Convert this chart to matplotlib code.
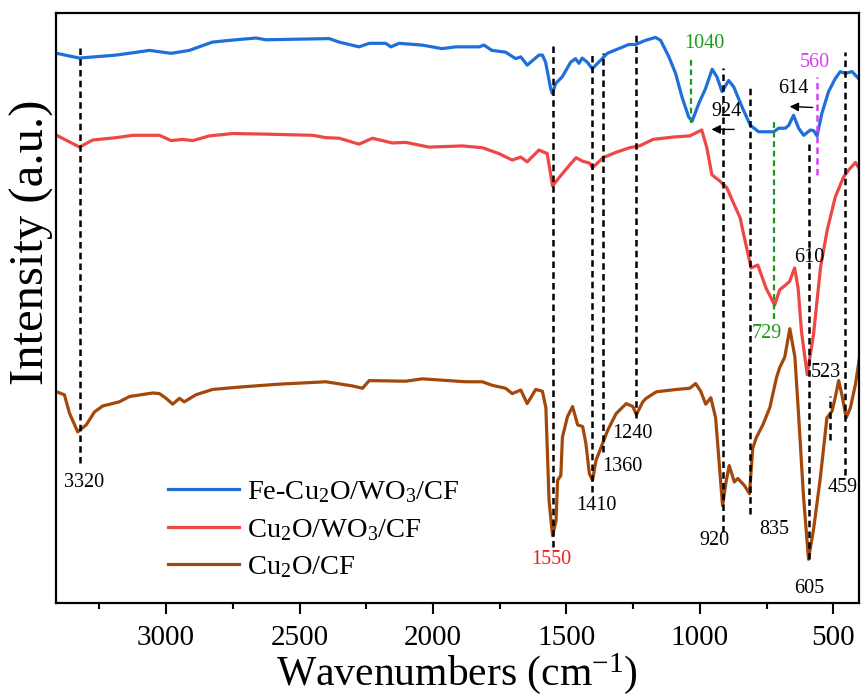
import matplotlib
matplotlib.use('Agg')
import matplotlib.pyplot as plt

plt.rcParams['font.family'] = ['Liberation Serif', 'DejaVu Serif']
plt.rcParams['mathtext.fontset'] = 'custom'
plt.rcParams['mathtext.rm'] = 'Liberation Serif'
plt.rcParams['mathtext.it'] = 'Liberation Serif:italic'

# spectra (wavenumber in cm-1, intensity in a.u.)
fe_wn = [3410, 3325, 3187, 3062, 2981, 2913, 2827, 2763, 2663, 2626, 2389, 2351, 2277, 2239,
         2177, 2158, 2127, 2041, 1966, 1915, 1827, 1809, 1779, 1728, 1690, 1671, 1647, 1603,
         1590, 1578, 1559, 1553, 1540, 1516, 1484, 1466, 1453, 1441, 1422, 1403, 1366, 1347,
         1304, 1266, 1241, 1204, 1166, 1147, 1116, 1091, 1067, 1042, 1029, 1004, 979, 954,
         936, 917, 892, 873, 842, 811, 780, 723, 705, 680, 667, 649, 630, 611, 586, 574, 561,
         543, 518, 493, 474, 455, 430, 405]
fe_int = [93.2, 92.4, 92.9, 93.7, 93.2, 93.7, 95.1, 95.4, 95.8, 95.5, 95.7, 95.1, 94.3, 94.9,
          94.9, 94.3, 94.9, 94.6, 94.0, 94.3, 94.3, 94.6, 93.7, 93.4, 92.3, 92.6, 91.2, 92.9,
          92.9, 91.7, 87.2, 86.4, 88.1, 89.2, 91.7, 92.3, 91.5, 92.4, 91.7, 90.6, 92.3, 93.2,
          94.0, 94.7, 94.7, 95.4, 95.9, 95.4, 92.6, 89.8, 85.8, 82.4, 81.7, 84.7, 87.2, 90.5,
          89.2, 86.7, 88.6, 87.5, 84.1, 81.0, 79.9, 79.9, 80.5, 80.5, 81.0, 82.7, 80.5, 79.3,
          80.2, 80.1, 79.2, 83.0, 86.7, 88.9, 90.1, 89.8, 90.1, 88.9]

cw_wn = [3410, 3324, 3275, 3187, 3125, 3025, 2981, 2938, 2900, 2838, 2751, 2626, 2451, 2401,
         2351, 2277, 2227, 2152, 2102, 2015, 1890, 1815, 1753, 1703, 1671, 1647, 1603, 1572,
         1552, 1528, 1491, 1464, 1439, 1414, 1402, 1363, 1315, 1263, 1226, 1176, 1101, 1038,
         993, 974, 955, 924, 899, 874, 849, 839, 808, 783, 752, 720, 701, 682, 664, 645, 632,
         619, 598, 574, 548, 523, 493, 462, 443, 417, 400]
cw_int = [79.3, 77.3, 78.5, 78.9, 79.3, 79.3, 78.4, 78.6, 78.4, 79.2, 79.6, 79.5, 79.3, 78.9,
          78.8, 77.8, 78.8, 78.0, 78.1, 77.3, 77.5, 77.2, 76.2, 75.1, 75.6, 74.8, 76.8, 76.2,
          70.7, 72.1, 74.1, 75.5, 74.9, 74.6, 73.8, 75.5, 76.4, 77.2, 77.5, 78.6, 79.0, 79.2,
          80.2, 77.2, 72.6, 71.5, 70.4, 67.8, 65.3, 63.1, 56.8, 57.3, 53.4, 50.5, 53.1, 53.8,
          54.5, 56.8, 53.4, 45.9, 38.7, 45.6, 56.9, 63.2, 68.8, 72.2, 73.4, 74.7, 73.4]

cu_wn = [3410, 3381, 3362, 3331, 3299, 3268, 3237, 3175, 3137, 3050, 3025, 3000, 2975, 2950,
         2932, 2888, 2826, 2726, 2576, 2401, 2302, 2264, 2239, 2102, 2040, 1877, 1815, 1778,
         1728, 1703, 1671, 1647, 1615, 1590, 1577, 1565, 1552, 1539, 1533, 1521, 1515, 1496,
         1477, 1458, 1439, 1427, 1414, 1402, 1389, 1370, 1345, 1314, 1276, 1251, 1238, 1214,
         1201, 1163, 1088, 1038, 1016, 997, 978, 959, 941, 928, 915, 902, 890, 871, 858, 833,
         814, 802, 789, 764, 738, 713, 701, 682, 663, 644, 631, 612, 593, 574, 549, 524, 505,
         493, 480, 467, 452, 436, 417, 400]
cu_int = [35.8, 35.3, 32.2, 29.0, 30.2, 32.4, 33.4, 34.1, 35.0, 35.6, 35.5, 34.7, 33.7, 34.7,
          34.1, 35.3, 36.2, 36.6, 37.1, 37.5, 36.8, 36.4, 37.7, 37.6, 38.0, 37.5, 37.5, 36.9,
          36.4, 35.5, 36.1, 33.8, 36.2, 35.9, 33.1, 17.3, 11.4, 13.9, 20.8, 21.6, 28.1, 31.6,
          33.3, 30.2, 29.9, 27.0, 21.9, 20.8, 24.2, 26.4, 29.3, 32.1, 33.8, 33.3, 31.9, 34.1,
          34.7, 35.8, 36.2, 36.4, 37.2, 35.9, 33.7, 34.8, 31.4, 23.9, 16.5, 20.5, 23.3, 20.5,
          21.1, 19.9, 18.5, 26.2, 28.0, 30.2, 33.1, 38.2, 39.9, 41.7, 46.5, 41.7, 32.5, 18.2,
          7.4, 12.5, 21.1, 31.4, 32.5, 34.8, 37.7, 35.1, 31.4, 33.1, 37.1, 42.2]

series_labels = ['Fe-Cu$_2$O/WO$_3$/CF', 'Cu$_2$O/WO$_3$/CF', 'Cu$_2$O/CF']
series_colors = ['#1f6fdb', '#ef4646', '#a3470b']

# marker lines: position, bottom, top
black_pos = [3324, 1552, 1403, 1363, 1238, 914, 811, 592, 457, 512]
black_lo = [23.7, 9.5, 18.8, 25.6, 31.3, 12.0, 15.1, 7.4, 21.7, 27.6]
black_hi = [94.6, 94.6, 93.1, 93.2, 96.3, 90.7, 87.4, 78.5, 93.4, 35.1]
green_pos = [1032, 723]
green_lo = [81.4, 48.2]
green_hi = [92.4, 81.9]
pink_pos = [561]
pink_lo = [72.5]
pink_hi = [89.2]

# peak labels: text, x, y, colour
peak_text = ['3320', '1550', '1410', '1360', '1240', '920', '835', '605', '459', '523',
             '610', '729', '924', '614', '560', '1040']
peak_x = [3306, 1558, 1387, 1292, 1251, 944, 723, 592, 465, 530, 592, 748, 901, 649, 570, 982]
peak_y = [20.4, 7.3, 16.5, 23.2, 28.7, 10.5, 12.5, 2.4, 19.5, 39.0, 58.5, 45.7, 83.4, 87.2, 91.7, 94.9]
peak_col = ['black', '#e8201f', 'black', 'black', 'black', 'black', 'black', 'black', 'black',
            'black', 'black', '#1c9a1c', 'black', 'black', '#d83ef2', '#1c9a1c']

# shift arrows (tail -> head)
arrow_tail = [(861, 80.3), (567, 84.0)]
arrow_head = [(967, 80.3), (674, 84.2)]

fig = plt.figure(figsize=(8.63, 6.97), dpi=100)
ax = fig.add_axes([0.065, 0.135, 0.930, 0.846])

for wn, it, lab, c in zip([fe_wn, cw_wn, cu_wn], [fe_int, cw_int, cu_int], series_labels, series_colors):
    ax.plot(wn, it, color=c, lw=2.3, label=lab, solid_joinstyle='round')

ax.vlines(black_pos, black_lo, black_hi, colors='black', lw=1.8, linestyles=(0, (2.6, 1.7)))
ax.vlines(green_pos, green_lo, green_hi, colors='#1c9a1c', lw=1.6, linestyles=(0, (2.6, 1.7)))
ax.vlines(pink_pos, pink_lo, pink_hi, colors='#d83ef2', lw=1.8, linestyles=(0, (2.6, 1.7)))

for t, x, y, c in zip(peak_text, peak_x, peak_y, peak_col):
    ax.text(x, y, t, color=c, fontsize=14.5, ha='center', va='center')

for tail, head in zip(arrow_tail, arrow_head):
    ax.annotate('', xy=head, xytext=tail,
                arrowprops=dict(arrowstyle='-|>', color='black', lw=1.0, mutation_scale=13))

ax.set_xlim(3412, 405)
ax.set_ylim(0, 100)
ax.set_yticks([])
ax.set_xticks([3000, 2500, 2000, 1500, 1000, 500])
ax.set_xticks([3250, 2750, 2250, 1750, 1250, 750], minor=True)
ax.tick_params(axis='x', which='major', direction='out', length=8, width=1.5, labelsize=21, pad=8)
ax.tick_params(axis='x', which='minor', direction='out', length=4.5, width=1.5)
for s in ax.spines.values():
    s.set_linewidth(1.6)

ax.set_xlabel('Wavenumbers (cm$^{-1}$)', fontsize=30, labelpad=0)
ax.set_ylabel('Intensity (a.u.)', fontsize=35)
ax.yaxis.set_label_coords(-0.002, 0.612)

ax.legend(loc='center left', bbox_to_anchor=(0.139, 0.124), frameon=False, fontsize=20.5,
          handlelength=2.5, handletextpad=0.3, labelspacing=0.4, borderpad=0, borderaxespad=0)

fig.savefig('out.png', dpi=100)
